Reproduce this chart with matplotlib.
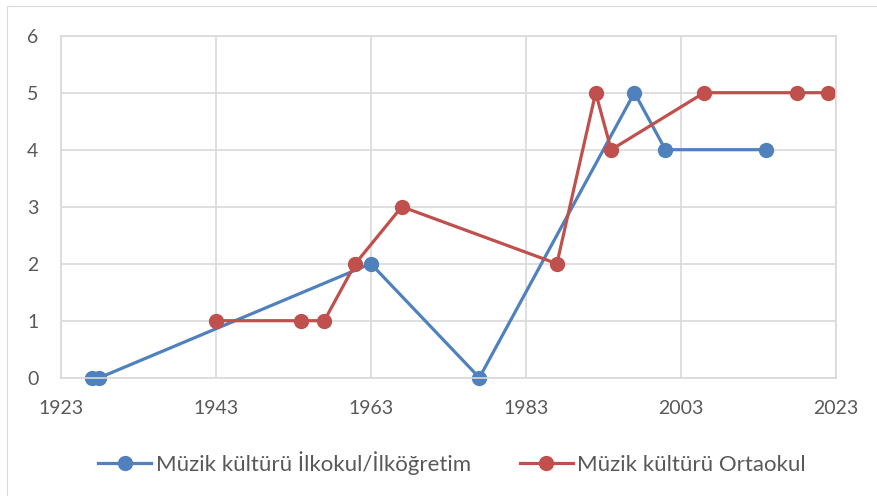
import matplotlib
matplotlib.use("Agg")
import matplotlib.pyplot as plt
from matplotlib.patches import Rectangle

# data
ilk_years = [1927, 1928, 1963, 1977, 1997, 2001, 2014]
ilk_vals = [0, 0, 2, 0, 5, 4, 4]
orta_years = [1943, 1954, 1957, 1961, 1967, 1987, 1992, 1994, 2006, 2018, 2022]
orta_vals = [1, 1, 1, 2, 3, 2, 5, 4, 5, 5, 5]
labels = ["Müzik kültürü İlkokul/İlköğretim", "Müzik kültürü Ortaokul"]
xticks = [1923, 1943, 1963, 1983, 2003, 2023]

plt.rcParams['font.family'] = ['Lato', 'DejaVu Sans']
txt = '#595959'
grid = '#D9D9D9'

fig = plt.figure(figsize=(8.77, 4.96), dpi=100)
ax = fig.add_axes([60.7/877, 1-377.7/496, (836-60.7)/877, (377.7-35.7)/496])

# outer chart border
fig.patches.append(Rectangle((7/877, -0.1), 1.2, 1.1 - 6/496, transform=fig.transFigure,
                             fill=False, edgecolor=grid, lw=0.8))

ax.plot(ilk_years, ilk_vals, '-o', color='#4F81BD', lw=2.3, ms=10, label=labels[0])
ax.plot(orta_years, orta_vals, '-o', color='#C0504D', lw=2.3, ms=10, label=labels[1])

ax.set_xlim(1923, 2023)
ax.set_ylim(0, 6)
ax.set_xticks(xticks)
ax.set_yticks(range(0, 7))
ax.grid(True, color=grid, lw=1.2)
ax.set_axisbelow(True)
for s in ax.spines.values():
    s.set_color(grid)
    s.set_linewidth(1.2)
ax.tick_params(length=0, labelsize=14, colors=txt)
ax.tick_params(axis='y', pad=16)
ax.tick_params(axis='x', pad=16)
for line in ax.lines:
    line.set_clip_on(False)

fig.legend(loc='center', bbox_to_anchor=(452/877, 1-463/496), ncol=2, frameon=False,
           fontsize=16, labelcolor=txt, handlelength=2.4, columnspacing=2.2,
           handletextpad=0.2)

fig.savefig('out.png', dpi=100)
